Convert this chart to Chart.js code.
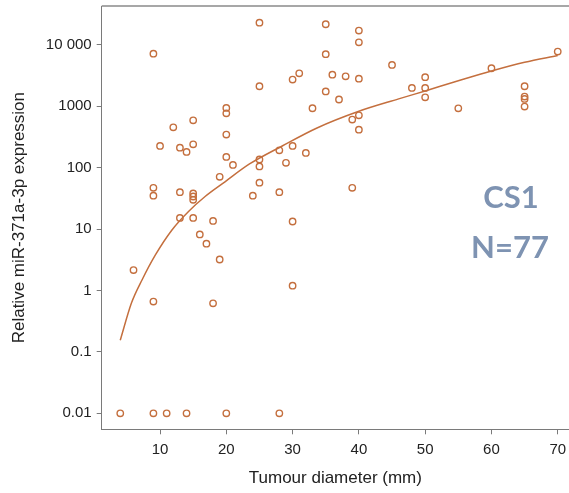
<!DOCTYPE html>
<html>
<head>
<meta charset="utf-8">
<script src="https://cdn.jsdelivr.net/npm/chart.js@4.4.1/dist/chart.umd.min.js"></script>
<style>
  body { margin: 0; background: #fff; }
  canvas { display: block; }
</style>
</head>
<body>
<canvas id="chart" width="569" height="493"></canvas>
<script>
// tumour diameter (mm) and relative expression
const diameters = [4, 6, 9, 9, 9, 9, 9, 10, 11, 12, 13, 13, 13, 14, 14,
  15, 15, 15, 15, 15, 15, 16, 17, 18, 18, 19, 19, 20, 20, 20, 20, 20, 21,
  24, 25, 25, 25, 25, 25, 28, 28, 28, 29, 30, 30, 30, 30, 31, 32, 33,
  35, 35, 35, 36, 37, 38, 39, 39, 40, 40, 40, 40, 40, 45, 48, 50, 50, 50,
  55, 60, 65, 65, 65, 65, 70];
const expression = [0.01, 2.15, 7200, 47, 35, 0.66, 0.01, 226, 0.01, 455, 212, 40, 15.2, 181, 0.01,
  592, 240, 38, 34, 30, 15.2, 8.2, 5.8, 13.6, 0.62, 71, 3.2, 942, 770, 346, 150, 0.01, 111,
  35, 23000, 2120, 136, 105, 57, 192, 40, 0.01, 120, 2720, 226, 13.3, 1.2, 3440, 174, 930,
  21700, 7060, 1750, 3280, 1290, 3080, 607, 47, 17100, 11000, 2820, 713, 417, 4720, 1990, 2980, 1990, 1400,
  928, 4170, 2120, 1440, 1320, 990, 7780];

// fitted curve
const fitX = [4, 5.7, 7.3, 9.3, 11.8, 14.3, 16.8, 19.8, 23.5, 28.5, 33.6, 40, 46, 50, 55, 60, 65, 70];
const fitY = [0.155, 0.63, 1.5, 3.8, 9.7, 19.4, 34, 59, 115, 228, 440, 830, 1320, 1780, 2600, 3750, 5200, 6700];

const xTicks = [10, 20, 30, 40, 50, 60, 70];
const yTicks = [0.01, 0.1, 1, 10, 100, 1000, 10000];

const brown = '#c46f3e';
const axisGrey = '#7a7a7a';

const extras = {
  id: 'extras',
  afterDraw(chart) {
    const ctx = chart.ctx;
    const area = chart.chartArea;
    ctx.save();
    // top frame line
    ctx.strokeStyle = '#8a8a8a';
    ctx.lineWidth = 1.6;
    ctx.beginPath();
    ctx.moveTo(area.left, area.top);
    ctx.lineTo(area.right, area.top);
    ctx.stroke();
    // cohort label
    ctx.fillStyle = '#7e93b2';
    ctx.font = 'bold 31px Lato';
    ctx.textAlign = 'center';
    ctx.textBaseline = 'middle';
    ctx.fillText('CS1', 511, 198);
    ctx.fillText('N=77', 510, 248);
    ctx.restore();
  }
};

function noPad(scale) {
  scale.paddingLeft = 0;
  scale.paddingRight = 0;
  scale.paddingTop = 0;
  scale.paddingBottom = 0;
}

new Chart(document.getElementById('chart'), {
  type: 'scatter',
  data: {
    datasets: [{
      data: diameters.map((d, i) => ({x: d, y: expression[i]})),
      pointRadius: 3.2,
      pointBorderWidth: 1.4,
      borderColor: brown,
      backgroundColor: 'rgba(0,0,0,0)',
      pointHoverRadius: 3.2
    }, {
      type: 'line',
      data: fitX.map((d, i) => ({x: d, y: fitY[i]})),
      borderColor: brown,
      borderWidth: 1.5,
      pointRadius: 0,
      cubicInterpolationMode: 'monotone',
      fill: false
    }]
  },
  options: {
    responsive: false,
    animation: false,
    devicePixelRatio: 1,
    layout: { autoPadding: false, padding: { top: 6, right: 0, left: 0, bottom: 0 } },
    plugins: {
      legend: { display: false },
      tooltip: { enabled: false }
    },
    scales: {
      x: {
        type: 'linear',
        min: 1.2,
        max: 71.7,
        afterBuildTicks: (scale) => { scale.ticks = xTicks.map(v => ({value: v})); },
        afterFit: (scale) => { scale.height = 63.7; noPad(scale); },
        grid: { drawOnChartArea: false, tickLength: 5, color: axisGrey },
        border: { color: axisGrey, width: 1 },
        ticks: {
          color: '#222',
          font: { family: 'Liberation Sans', size: 15 },
          padding: 7,
          maxRotation: 0
        },
        title: {
          display: true,
          text: 'Tumour diameter (mm)',
          color: '#222',
          font: { family: 'Liberation Sans', size: 17 },
          padding: { top: 0, bottom: 4 }
        }
      },
      y: {
        type: 'logarithmic',
        min: 0.0055,
        max: 43000,
        afterBuildTicks: (scale) => { scale.ticks = yTicks.map(v => ({value: v})); },
        afterFit: (scale) => { scale.width = 101.7; noPad(scale); },
        grid: { drawOnChartArea: false, tickLength: 5, color: axisGrey },
        border: { color: axisGrey, width: 1 },
        ticks: {
          color: '#222',
          font: { family: 'Liberation Sans', size: 15 },
          padding: 5,
          callback: (v) => v === 10000 ? '10 000' : String(v)
        },
        title: {
          display: true,
          text: 'Relative miR-371a-3p expression',
          color: '#222',
          font: { family: 'Liberation Sans', size: 17 },
          padding: { top: 9, bottom: 0 }
        }
      }
    }
  },
  plugins: [extras]
});
</script>
</body>
</html>
